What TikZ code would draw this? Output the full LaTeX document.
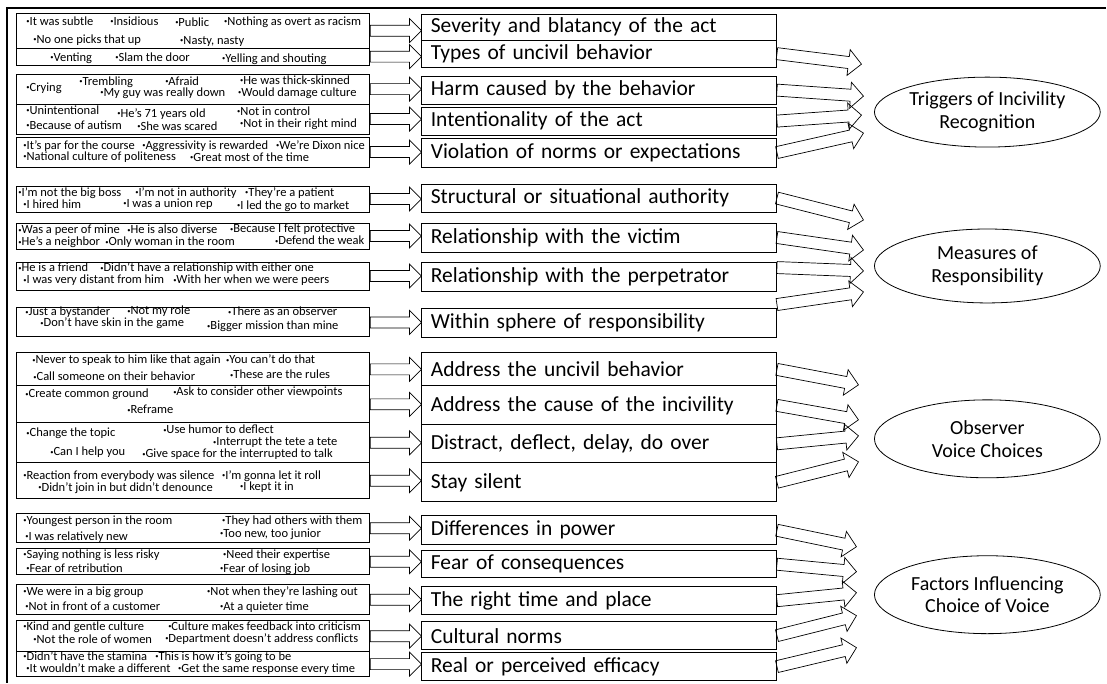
\documentclass[tikz,border=0pt]{standalone}
\usepackage{fontspec}
\setmainfont{Carlito}
\usepackage{tikz}
\usetikzlibrary{calc, positioning, shapes.geometric}

\newcommand{\bul}{\raisebox{1.8pt}{\fontsize{6.5}{6.5}\selectfont•}}
\NewDocumentCommand{\blockarrow}{mmmm}{%
	\draw[line width=0.7pt, line join=miter]
	($(#1)!#3!90:(#2)$) --
	($(#2)!#4!(#1)!#3!-90:(#1)$) --
	($(#2)!#4!(#1)!#4!-90:(#1)$) --
	(#2) --
	($(#2)!#4!(#1)!#4!90:(#1)$) --
	($(#2)!#4!(#1)!#3!90:(#1)$) --
	($(#1)!#3!-90:(#2)$) --
	cycle;%
}
\tikzset{
	quotebox/.style={draw, line width=0.9pt, minimum width=354pt, inner sep=0pt}
}
\tikzset{
	quotetext/.style={anchor=west, inner sep=0pt, text height=8pt, text depth=2pt, font=\fontsize{12.5}{14}\selectfont}
}
\tikzset{
	catbox/.style={draw, line width=0.8pt, minimum width=355pt, text width=337pt, inner xsep=9pt, inner ysep=0pt, align=left, font=\fontsize{21.5}{24}\selectfont}
}
\tikzset{
	themenode/.style={draw, ellipse, line width=0.8pt, minimum width=226pt, inner sep=0pt, align=center, font=\fontsize{20}{23}\selectfont}
}

\begin{document}
\begin{tikzpicture}[x=1pt, y=-1pt]
\draw[opacity=0] (0,0) rectangle (1107,683);
\draw[line width=1.5pt] (7,683) -- (7,8) -- (1107,8);

% quote boxes on the left
\foreach \yc/\h [count=\i] in {30.5/35, 56.5/17, 89/30, 119/30, 152/30, 199/26, 236/26, 276/28, 322.5/29,
	369.5/33, 404.5/37, 443/40, 481/36, 528.5/29, 562/26, 600/30, 636.5/31, 664.5/25}
	\node[quotebox, minimum height=\h pt] (l\i) at (193,\yc) {};

\foreach \qx/\qy/\qt [count=\k] in {
	26/22/It was subtle, 110/22/Insidious, 175/23/Public, 224/22/Nothing as overt as racism,
	33/40/No one picks that up, 180/41/{Nasty, nasty},
	50/58/Venting, 115/58/Slam the door, 222/59/Yelling and shouting,
	26/88/Crying, 79/82/Trembling, 165/82/Afraid, 240/81/He was thick-skinned,
	100/93/My guy was really down, 238/93/Would damage culture,
	26/111/Unintentional, 117/114/He’s 71 years old, 237/112/Not in control,
	26/126/Because of autism, 137/127/She was scared, 240/124/Not in their right mind,
	23/146/It’s par for the course, 142/146/Aggressivity is rewarded, 276/146/We’re Dixon nice,
	23/157/National culture of politeness, 190/158/Great most of the time,
	18/193/I’m not the big boss, 135/193/I’m not in authority, 245/193/They’re a patient,
	23/205/I hired him, 123/204/I was a union rep, 237/206/I led the go to market,
	18/231/Was a peer of mine, 127/231/He is also diverse, 230/230/Because I felt protective,
	18/243/He’s a neighbor, 105/243/Only woman in the room, 275/242/Defend the weak,
	18/269/He is a friend, 100/269/Didn’t have a relationship with either one,
	23/281/I was very distant from him, 173/281/With her when we were peers,
	25/313/Just a bystander, 127/312/Not my role, 228/313/There as an observer,
	40/324/Don’t have skin in the game, 207/327/Bigger mission than mine,
	32/361/Never to speak to him like that again, 226/361/You can’t do that,
	33/378/Call someone on their behavior, 230/376/These are the rules,
	25/395/Create common ground, 173/393/Ask to consider other viewpoints, 127/411/Reframe,
	26/434/Change the topic, 163/431/Use humor to deflect, 213/443/Interrupt the tete a tete,
	50/453/Can I help you, 142/455/Give space for the interrupted to talk,
	23/477/Reaction from everybody was silence, 222/477/I’m gonna let it roll,
	38/489/Didn’t join in but didn’t denounce, 240/488/I kept it in,
	23/522/Youngest person in the room, 222/522/They had others with them,
	25/538/I was relatively new, 220/535/{Too new, too junior},
	23/556/Saying nothing is less risky, 223/556/Need their expertise,
	26/570/Fear of retribution, 220/570/Fear of losing job,
	23/593/We were in a big group, 207/593/Not when they’re lashing out,
	25/608/Not in front of a customer, 220/608/At a quieter time,
	23/628/Kind and gentle culture, 168/628/Culture makes feedback into criticism,
	33/641/Not the role of women, 165/640/Department doesn’t address conflicts,
	23/658/Didn’t have the stamina, 155/658/This is how it’s going to be,
	26/670/It wouldn’t make a different, 178/670/Get the same response every time}
	\node[quotetext] (q\k) at (\qx,\qy) {\bul\qt};

% categories
\foreach \yc/\h/\t [count=\i] in {
	27/26/Severity and blatancy of the act, 53.5/27/Types of uncivil behavior,
	90/28/Harm caused by the behavior, 121/28/Intentionality of the act,
	152.5/29/Violation of norms or expectations,
	198/28/Structural or situational authority, 237.5/29/Relationship with the victim,
	276.5/29/Relationship with the perpetrator, 322.5/29/Within sphere of responsibility,
	369.5/33/Address the uncivil behavior, 405.5/39/Address the cause of the incivility,
	444/38/{Distract, deflect, delay, do over}, 482.5/39/Stay silent,
	530.5/29/Differences in power, 564.5/27/Fear of consequences,
	601/28/The right time and place, 636/28/Cultural norms, 667/28/Real or perceived efficacy}
	\node[catbox, minimum height=\h pt] (m\i) at (599.5,\yc) {\t};

% themes
\node[themenode, minimum height=70pt] (eA) at (988,112) {Triggers of Incivility\\Recognition};
\node[themenode, minimum height=74pt] (eB) at (988,266) {Measures of\\Responsibility};
\node[themenode, minimum height=78pt] (eC) at (988,439) {Observer\\Voice Choices};
\node[themenode, minimum height=78pt] (eD) at (988,595) {Factors Influencing\\Choice of Voice};

\foreach \i in {1,...,18}{
	\coordinate (h\i) at (l\i.east -| m\i.west);
	\blockarrow{l\i.east}{h\i}{5.5pt}{12pt}
}

\coordinate (sG) at ($(m8.north east)+(0,6)$);
\coordinate (sH) at ($(m9.north east)+(0,-3)$);

\coordinate (tA) at (862,64);
\coordinate (tB) at (864,96);
\coordinate (tC) at (862,115);
\coordinate (tD) at (864,133);
\coordinate (tE) at (864,220);
\coordinate (tF) at (864,250);
\coordinate (tG) at (864,271);
\coordinate (tH) at (864,292);
\coordinate (tI) at (859,385);
\coordinate (tJ) at (859,420);
\coordinate (tK) at (859,436);
\coordinate (tL) at (859,462);
\coordinate (tM) at (857,547);
\coordinate (tN) at (857,572);
\coordinate (tO) at (857,593);
\coordinate (tP) at (857,616);
\coordinate (tQ) at (857,648);

\foreach \s/\t in {m2.east/tA, m3.east/tB, m4.east/tC, m5.east/tD, m6.east/tE, m7.east/tF, sG/tG, sH/tH,
	m10.east/tI, m11.east/tJ, m12.east/tK, m13.east/tL, m14.east/tM, m15.east/tN, m16.east/tO,
	m17.east/tP, m18.east/tQ}{
	\blockarrow{\s}{\t}{6pt}{13pt}
}

\end{tikzpicture}
\end{document}
